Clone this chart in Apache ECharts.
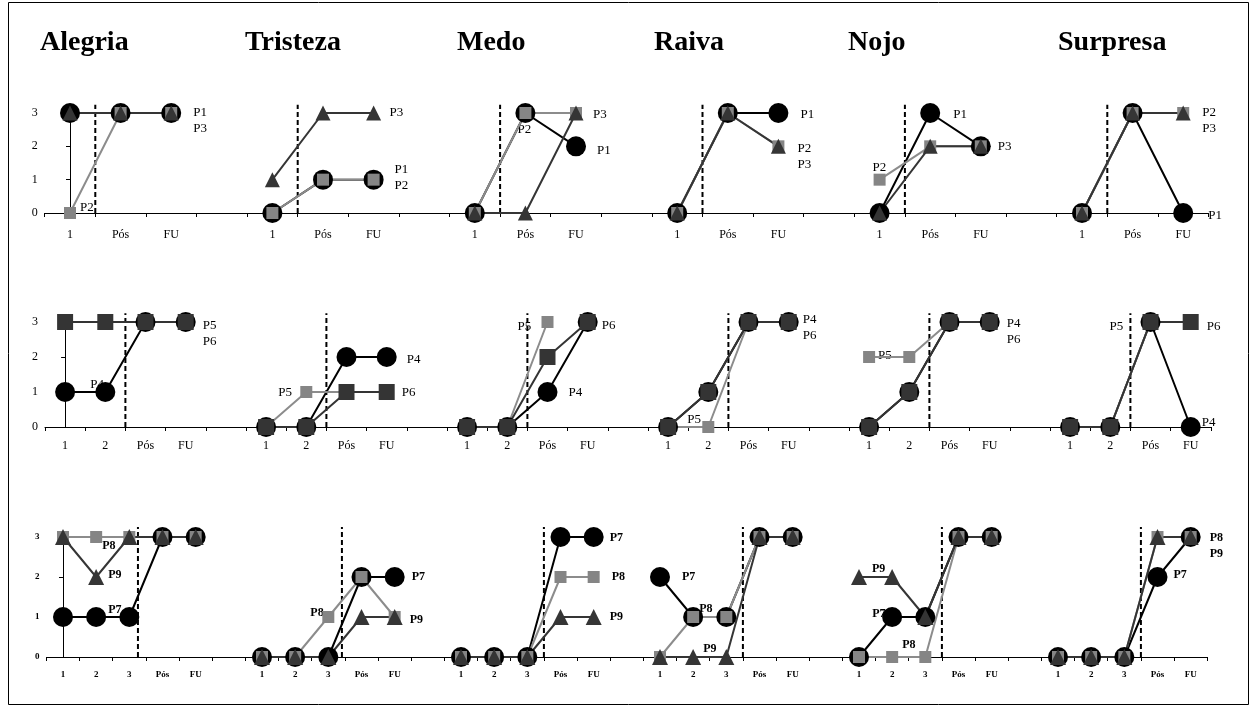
<!DOCTYPE html>
<html><head><meta charset="utf-8">
<script src="https://cdn.jsdelivr.net/npm/echarts@6/dist/echarts.min.js"></script>
<style>html,body{margin:0;padding:0;background:#fff}#c{width:1257px;height:712px}</style>
</head><body><div id="c"></div>
<script>
// ---- data ----
const emotions = ['Alegria','Tristeza','Medo','Raiva','Nojo','Surpresa'];
const catsRow1 = ['1','Pós','FU'];
const catsRow2 = ['1','2','Pós','FU'];
const catsRow3 = ['1','2','3','Pós','FU'];
const yTickValues = [0,1,2,3];

// values per emotion (Alegria, Tristeza, Medo, Raiva, Nojo, Surpresa)
const P1 = [[3,3,3],[0,1,1],[0,3,2],[0,3,3],[0,3,2],[0,3,0]];
const P2 = [[0,3,3],[0,1,1],[0,3,3],[0,3,2],[1,2,2],[0,3,3]];
const P3 = [[3,3,3],[1,3,3],[0,0,3],[0,3,2],[0,2,2],[0,3,3]];

const P4 = [[1,1,3,3],[0,0,2,2],[0,0,1,3],[0,1,3,3],[0,1,3,3],[0,0,3,0]];
const P5 = [[3,3,3,3],[0,1,1,1],[0,0,3,null],[0,0,3,3],[2,2,3,3],[0,0,3,null]];
const P6 = [[3,3,3,3],[0,0,1,1],[0,0,2,3],[0,1,3,3],[0,1,3,3],[0,0,3,3]];

const P7 = [[1,1,1,3,3],[0,0,0,2,2],[0,0,0,3,3],[2,1,1,3,3],[0,1,1,3,3],[0,0,0,2,3]];
const P8 = [[3,3,3,3,3],[0,0,1,2,1],[0,0,0,2,2],[0,1,1,3,3],[0,0,0,3,3],[0,0,0,3,3]];
const P9 = [[3,2,3,3,3],[0,0,0,1,1],[0,0,0,1,1],[0,0,0,3,3],[2,2,1,3,3],[0,0,0,3,3]];

// point labels: [emotion index, category index, value, text]
const labelsRow1 = [
  [0,2,3,'P1\nP3'],[0,0,0,'P2'],
  [1,2,3,'P3'],[1,2,1,'P1\nP2'],
  [2,1,3,'P2'],[2,2,3,'P3'],[2,2,2,'P1'],
  [3,2,3,'P1'],[3,2,2,'P2\nP3'],
  [4,1,3,'P1'],[4,2,2,'P3'],[4,0,1,'P2'],
  [5,2,3,'P2\nP3'],[5,2,0,'P1']
];
const labelsRow2 = [
  [0,3,3,'P5\nP6'],[0,1,1,'P4'],
  [1,1,1,'P5'],[1,3,2,'P4'],[1,3,1,'P6'],
  [2,2,3,'P5'],[2,3,3,'P6'],[2,2,1,'P4'],
  [3,3,3,'P4\nP6'],[3,1,0,'P5'],
  [4,3,3,'P4\nP6'],[4,0,2,'P5'],
  [5,2,3,'P5'],[5,3,3,'P6'],[5,3,0,'P4']
];
const labelsRow3 = [
  [0,1,3,'P8'],[0,1,2,'P9'],[0,1,1,'P7'],
  [1,2,1,'P8'],[1,4,2,'P7'],[1,4,1,'P9'],
  [2,4,3,'P7'],[2,4,2,'P8'],[2,4,1,'P9'],
  [3,0,2,'P7'],[3,1,1,'P8'],[3,1,0,'P9'],
  [4,0,2,'P9'],[4,1,1,'P7'],[4,1,0,'P8'],
  [5,4,3,'P8\nP9'],[5,3,2,'P7']
];

// ---- layout ----
// pixel offsets of label text from its point
const offRow1 = [[22,8],[10,-5],[16,0],[21,-2],[-8,17],[17,2],[21,4],[22,2],[19,10],[23,2],[17,0],[-7,-12],[19,8],[25,3]];
const offRow2 = [[17,12],[-15,-7],[-28,1],[20,3],[15,1],[-30,5],[14,4],[21,1],[14,6],[-21,-7],[17,10],[9,-1],[-41,5],[16,5],[11,-4]];
const offRow3 = [[6,9],[12,-2],[12,-7],[-18,-4],[17,0],[15,3],[16,1],[18,0],[16,0],[22,0],[6,-8],[10,-8],[13,-8],[-20,-3],[10,-12],[19,9],[16,-2]];
// dashed phase-line position (in category units) per panel
const dashRow1 = [0.5,0.5,0.5,0.5,0.5,0.5];
const dashRow2 = [1.5,1.5,1.5,1.5,1.5,1.5];
const dashRow3 = [2.26,2.41,2.5,2.5,2.5,2.5];

const SERIF = '"Liberation Serif","Times New Roman",serif';
const sty = {
  circle:  {symbol:'circle', size:20, color:'#000', line:'#000'},
  sqLight: {symbol:'rect', size:12, color:'#858585', line:'#8c8c8c'},
  sqDark:  {symbol:'rect', size:16, color:'#343434', line:'#343434'},
  tri:     {symbol:'triangle', size:15, color:'#353535', line:'#353535'}
};

const rows = [
  {cats:catsRow1, parts:[[P1,'P1',sty.circle],[P2,'P2',sty.sqLight],[P3,'P3',sty.tri]],
   top:113, height:100, left0:44.7, step:202.4, band:50.6, dash:dashRow1,
   labels:labelsRow1, offs:offRow1, axFont:12, axBold:'normal', axMargin:16, lbBold:'normal', lbSize:13},
  {cats:catsRow2, parts:[[P4,'P4',sty.circle],[P5,'P5',sty.sqLight],[P6,'P6',sty.sqDark]],
   top:322, height:105, left0:45, step:201, band:40.2, dash:dashRow2,
   labels:labelsRow2, offs:offRow2, axFont:12, axBold:'normal', axMargin:13, lbBold:'normal', lbSize:13},
  {cats:catsRow3, parts:[[P7,'P7',sty.circle],[P8,'P8',sty.sqLight],[P9,'P9',Object.assign({},sty.tri,{size:16})]],
   top:537, height:120, left0:46.4, step:199, band:33.17, dash:dashRow3,
   labels:labelsRow3, offs:offRow3, axFont:9, axBold:'bold', axMargin:13, lbBold:'bold', lbSize:12}
];

const grids=[], xAxes=[], yAxes=[], series=[];
rows.forEach((row) => {
  emotions.forEach((em, e) => {
    const g = grids.length;
    const last = e === emotions.length - 1;
    const cats = row.cats.concat(last ? [] : ['']);
    const n = cats.length;
    grids.push({left: row.left0 + e*row.step, top: row.top, width: n*row.band, height: row.height});
    xAxes.push({type:'category', gridIndex:g, data:cats, boundaryGap:true,
      axisLine:{show:true, lineStyle:{color:'#000', width:1}},
      axisTick:{show:true, length:4, interval:0, lineStyle:{color:'#000'}},
      axisLabel:{color:'#000', fontFamily:SERIF, fontSize:row.axFont, fontWeight:row.axBold, margin:row.axMargin, interval:0},
      splitLine:{show:false}});
    xAxes.push({type:'value', gridIndex:g, min:-0.5, max:n-0.5, show:false});
    const first = e === 0;
    yAxes.push({type:'value', gridIndex:g, min:yTickValues[0], max:yTickValues[yTickValues.length-1], interval:1,
      axisLine:{show:first, lineStyle:{color:'#000', width:1}},
      axisTick:{show:first, length:4, lineStyle:{color:'#000'}},
      axisLabel:{show:first, color:'#000', fontFamily:SERIF, fontSize:row.axFont, fontWeight:row.axBold, margin:7},
      splitLine:{show:false}});
    // dashed phase line
    const dx = row.dash[e];
    series.push({type:'line', xAxisIndex:2*g+1, yAxisIndex:g, data:[[dx,0],[dx,3.25]],
      symbol:'none', clip:false, silent:true, z:2,
      lineStyle:{color:'#000', width:2, type:[5,3]}});
    // participants
    row.parts.forEach(([arr, name, s]) => {
      series.push({type:'line', name:name, xAxisIndex:2*g, yAxisIndex:g, data:arr[e],
        symbol:s.symbol, symbolSize:s.size, showAllSymbol:true, clip:false, connectNulls:false, z:3,
        itemStyle:{color:s.color, opacity:1},
        lineStyle:{color:s.line, width:2}});
    });
    // labels
    const lbData = [];
    row.labels.forEach((lb, k) => {
      if (lb[0] !== e) return;
      const off = row.offs[k];
      lbData.push({value:[lb[1], lb[2]], label:{show:true, formatter:lb[3], position:'right', distance:0,
        offset:[off[0], off[1]], align:'left', verticalAlign:'middle', opacity:1,
        fontFamily:SERIF, fontSize:row.lbSize, fontWeight:row.lbBold, color:'#000', lineHeight:16}});
    });
    series.push({type:'scatter', xAxisIndex:2*g, yAxisIndex:g, data:lbData, symbolSize:0, z:1, silent:true,
      clip:false, itemStyle:{color:'#000', opacity:1}});
  });
});

const titleX = [40, 245, 457, 654, 848, 1058];
const graphic = [{type:'rect', shape:{x:8.5, y:2.5, width:1240, height:702}, style:{fill:'none', stroke:'#000', lineWidth:1}, z:-1}];
emotions.forEach((em, e) => {
  graphic.push({type:'text', x:titleX[e], y:43, style:{text:em, fill:'#000', font:'bold 28px ' + SERIF, textVerticalAlign:'middle'}});
});

const chart = echarts.init(document.getElementById('c'));
chart.setOption({animation:false, backgroundColor:'#fff', grid:grids, xAxis:xAxes, yAxis:yAxes, series:series, graphic:graphic});
</script></body></html>
